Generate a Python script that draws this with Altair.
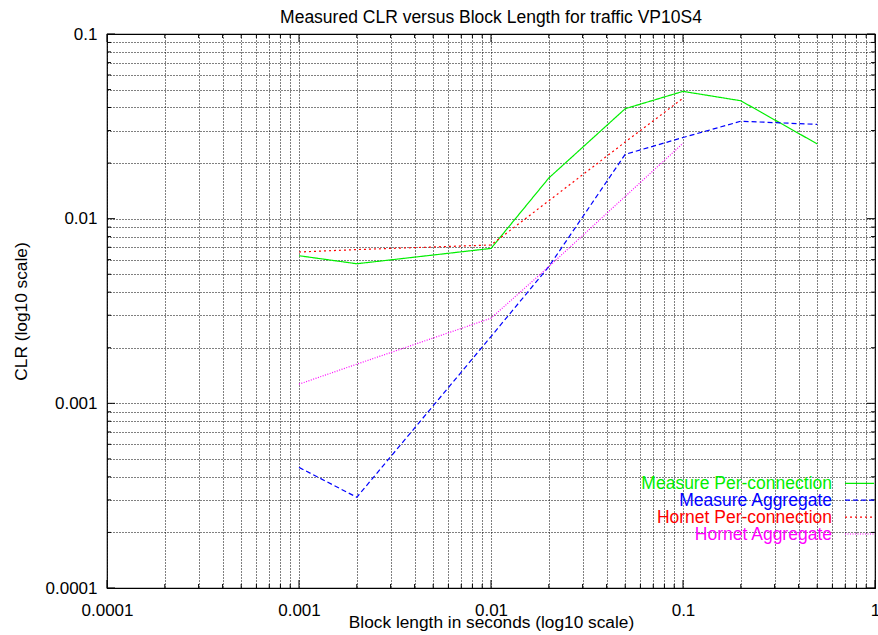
import altair as alt
import pandas as pd

# ---------------- data ----------------
series_names = ["Measure Per-connection", "Measure Aggregate",
                "Hornet Per-connection", "Hornet Aggregate"]
series_colors = ["#00ee00", "#0000ff", "#ff0000", "#ff00ff"]
series_dashes = [[1, 0], [5, 3], [2, 3], [1, 1.5]]

mpc_x = [0.001, 0.002, 0.01, 0.02, 0.05, 0.1, 0.2, 0.5]
mpc_y = [0.0063, 0.0057, 0.0069, 0.0166, 0.0394, 0.0489, 0.0435, 0.0254]

mag_x = [0.001, 0.002, 0.01, 0.02, 0.05, 0.1, 0.2, 0.5]
mag_y = [0.00045, 0.00031, 0.0023, 0.0055, 0.0223, 0.0275, 0.0337, 0.0324]

hpc_x = [0.001, 0.002, 0.01, 0.02, 0.05, 0.1]
hpc_y = [0.0066, 0.0068, 0.0072, 0.0125, 0.026, 0.0449]

hag_x = [0.001, 0.002, 0.01, 0.02, 0.05, 0.1]
hag_y = [0.00127, 0.00163, 0.00289, 0.0055, 0.0132, 0.0256]

x_decades = [0.0001, 0.001, 0.01, 0.1, 1]
y_decades = [0.0001, 0.001, 0.01, 0.1]

title_text = "Measured CLR versus Block Length for traffic VP10S4"
x_title = "Block length in seconds (log10 scale)"
y_title = "CLR (log10 scale)"

# ---------------- build ----------------
rows = []
for name, xs_, ys_ in zip(series_names, [mpc_x, mag_x, hpc_x, hag_x],
                          [mpc_y, mag_y, hpc_y, hag_y]):
    for a, b in zip(xs_, ys_):
        rows.append({"series": name, "x": a, "y": b})
df = pd.DataFrame(rows)

def with_minors(decades):
    vals = []
    for d in decades[:-1]:
        for m in range(1, 10):
            vals.append(round(m * d, 12))
    vals.append(decades[-1])
    return vals

x_grid = with_minors(x_decades)
y_grid = with_minors(y_decades)
x_minor = [v for v in x_grid if v not in x_decades]
y_minor = [v for v in y_grid if v not in y_decades]

W, H = 768, 554
FONT = "Liberation Sans"

xs = alt.Scale(type="log", domain=[x_decades[0], x_decades[-1]], nice=False)
ys = alt.Scale(type="log", domain=[y_decades[0], y_decades[-1]], nice=False)

x_axis = alt.Axis(
    values=x_grid, grid=True, gridColor="#000000", gridDash=[1, 2],
    gridWidth=1, ticks=False, tickSize=0, domain=False,
    labelExpr=f"indexof({x_decades}, datum.value) >= 0 ? datum.value + '' : ''",
    labelOverlap=False, labelFlush=False, labelPadding=14,
    labelFont=FONT, labelFontSize=17, labelColor="#000000",
    title=x_title, titleFont=FONT, titleFontSize=17.3, titleFontWeight="normal",
    titleColor="#000000", titleX=W / 2, titleY=39, titleBaseline="alphabetic",
    titleAlign="center",
)
y_axis = alt.Axis(
    values=y_grid, grid=True, gridColor="#000000", gridDash=[1, 2],
    gridWidth=1, ticks=False, tickSize=0, domain=False,
    labelExpr=f"indexof({y_decades}, datum.value) >= 0 ? datum.value + '' : ''",
    labelOverlap=False, labelFlush=False, labelPadding=10,
    labelFont=FONT, labelFontSize=17, labelColor="#000000",
    title=y_title, titleFont=FONT, titleFontSize=17.3, titleFontWeight="normal",
    titleColor="#000000", titleX=-81, titleY=H / 2, titleAngle=270,
    titleBaseline="alphabetic", titleAlign="center",
)

X = alt.X("x:Q", scale=xs, axis=x_axis)
Y = alt.Y("y:Q", scale=ys, axis=y_axis)

lines = alt.Chart(df).mark_line(strokeWidth=1.2).encode(
    x=X, y=Y,
    color=alt.Color("series:N", scale=alt.Scale(domain=series_names, range=series_colors), legend=None),
    strokeDash=alt.StrokeDash("series:N", scale=alt.Scale(domain=series_names, range=series_dashes), legend=None),
)

layers = [lines]

def tick_layer(vals, side, length):
    if side in ("bottom", "top"):
        d = pd.DataFrame({"x": vals})
        y0 = H if side == "bottom" else 0
        y1 = H - length if side == "bottom" else length
        return alt.Chart(d).mark_rule(color="#000000", strokeWidth=1).encode(
            x=X, y=alt.value(y0), y2=alt.value(y1))
    d = pd.DataFrame({"y": vals})
    x0 = 0 if side == "left" else W
    x1 = length if side == "left" else W - length
    return alt.Chart(d).mark_rule(color="#000000", strokeWidth=1).encode(
        y=Y, x=alt.value(x0), x2=alt.value(x1))

for side in ("bottom", "top"):
    layers.append(tick_layer(x_decades, side, 8))
    layers.append(tick_layer(x_minor, side, 4))
for side in ("left", "right"):
    layers.append(tick_layer(y_decades, side, 8))
    layers.append(tick_layer(y_minor, side, 4))

# legend (gnuplot style: label on the left, sample on the right)
for i, (name, col, dash) in enumerate(zip(series_names, series_colors, series_dashes)):
    base_y = 455.3 + 16.9 * i
    layers.append(
        alt.Chart(pd.DataFrame({"label": [name]})).mark_text(
            align="right", baseline="alphabetic", font=FONT, fontSize=17.5, color=col
        ).encode(text="label:N", x=alt.value(725), y=alt.value(base_y))
    )
    layers.append(
        alt.Chart(pd.DataFrame({"label": [name]})).mark_rule(
            color=col, strokeDash=dash, strokeWidth=1.2
        ).encode(x=alt.value(738), x2=alt.value(767), y=alt.value(base_y - 6))
    )

layers.append(
    alt.Chart(pd.DataFrame({"t": [title_text]})).mark_text(
        align="center", baseline="alphabetic", font=FONT, fontSize=17.5, color="#000000"
    ).encode(text="t:N", x=alt.value(W / 2), y=alt.value(-10.7))
)

chart = alt.layer(*layers).properties(
    width=W, height=H,
    autosize=alt.AutoSizeParams(type="none"),
    padding={"left": 107, "top": 34, "right": 3, "bottom": 47},
    background="#ffffff",
).configure_view(stroke="#000000", strokeWidth=1.2)

chart.save("out.html", embed_options={"renderer": "svg", "actions": False})
